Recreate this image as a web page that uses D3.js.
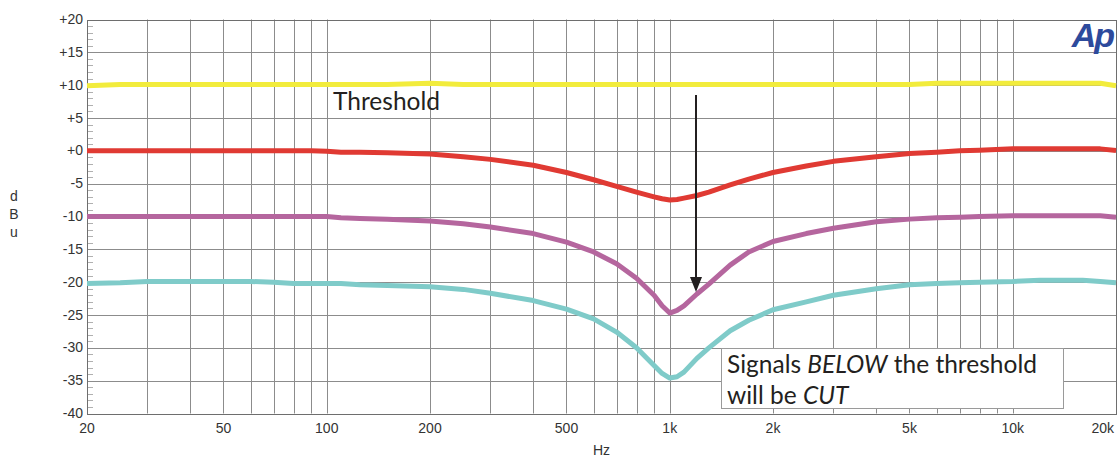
<!DOCTYPE html>
<html>
<head>
<meta charset="utf-8">
<script src="https://cdn.jsdelivr.net/npm/d3@7"></script>
<style>
    body { margin: 0; background: #fff; }
    svg { display: block; }
    .tick-label { font-family: "Liberation Sans", Arial, sans-serif; font-size: 14px; fill: #333; }
    .note { font-family: Lato, "Open Sans", sans-serif; fill: #231f20; }
</style>
</head>
<body>
<div id="chart"></div>
<script>
'use strict';

// frequency points (Hz) shared by all traces
const freqs = [20, 25, 30, 40, 50, 60, 70, 80, 90, 100, 110, 125, 150, 200, 250, 300, 400, 500, 600, 700, 800, 900, 950,
    1000, 1050, 1100, 1200, 1300, 1500, 1700, 2000, 2500, 3000, 4000, 5000, 6000, 7000, 8000, 10000, 12000, 16000, 18000, 20000]

// dBu levels
const threshold = [9.9, 10.1, 10.1, 10.1, 10.1, 10.1, 10.1, 10.1, 10.1, 10.1, 10.1, 10.1, 10.1, 10.3, 10.1, 10.1, 10.1, 10.1, 10.1, 10.1, 10.1, 10.1, 10.1,
    10.1, 10.1, 10.1, 10.1, 10.1, 10.1, 10.1, 10.1, 10.1, 10.1, 10.1, 10.1, 10.3, 10.3, 10.3, 10.3, 10.3, 10.3, 10.3, 9.9]
const sig0 = [0, 0, 0, 0, 0, 0, 0, 0, 0, -0.05, -0.2, -0.2, -0.3, -0.5, -0.9, -1.3, -2.2, -3.3, -4.4, -5.4, -6.3, -7.0, -7.3,
    -7.5, -7.4, -7.2, -6.8, -6.3, -5.2, -4.3, -3.3, -2.3, -1.6, -0.9, -0.4, -0.2, 0, 0.1, 0.3, 0.3, 0.3, 0.3, 0.05]
const sig10 = [-10, -10, -10, -10, -10, -10, -10, -10, -10, -10, -10.2, -10.3, -10.4, -10.7, -11.1, -11.6, -12.6, -13.9, -15.4, -17.2, -19.4, -22.0, -23.6,
    -24.7, -24.3, -23.6, -21.8, -20.3, -17.4, -15.4, -13.8, -12.6, -11.8, -10.8, -10.4, -10.2, -10.1, -10, -9.9, -9.9, -9.9, -9.9, -10.1]
const sig20 = [-20.2, -20.1, -19.9, -19.9, -19.9, -19.9, -20.0, -20.2, -20.2, -20.2, -20.2, -20.4, -20.5, -20.7, -21.1, -21.7, -22.8, -24.1, -25.6, -27.6, -30.0, -32.7, -33.9,
    -34.6, -34.4, -33.7, -31.6, -30.0, -27.4, -25.8, -24.2, -23.0, -22.0, -21.0, -20.4, -20.2, -20.1, -20.0, -19.9, -19.7, -19.7, -19.9, -20.1]

const series = [
    { name: "threshold", values: threshold, color: "#f2ec3c" },
    { name: "0 dBu", values: sig0, color: "#e03a33" },
    { name: "-10 dBu", values: sig10, color: "#b5669e" },
    { name: "-20 dBu", values: sig20, color: "#7fcbc9" }
]

// axis ticks
const xLabelTicks = [20, 50, 100, 200, 500, 1000, 2000, 5000, 10000, 20000]
const xLabels = ["20", "50", "100", "200", "500", "1k", "2k", "5k", "10k", "20k"]
const xGridTicks = [30, 40, 50, 60, 70, 80, 90, 100, 200, 300, 400, 500, 600, 700, 800, 900, 1000,
    2000, 3000, 4000, 5000, 6000, 7000, 8000, 9000, 10000]
const yMajor = [20, 15, 10, 5, 0, -5, -10, -15, -20, -25, -30, -35, -40]
const yLabels = ["+20", "+15", "+10", "+5", "+0", "-5", "-10", "-15", "-20", "-25", "-30", "-35", "-40"]
const yMinor = d3.range(-39, 20).filter(v => v % 5 !== 0)

const width = 1119,
    height = 457;
const margin = ({ top: 19.5, right: 3, bottom: 43.5, left: 87 })

const svg = d3.select("#chart").append("svg")
    .attr("width", width)
    .attr("height", height)

const x = d3.scaleLog()
    .domain([20, 20000])
    .range([margin.left, width - margin.right])
const y = d3.scaleLinear()
    .domain([-40, 20])
    .range([height - margin.bottom, margin.top])

const px = v => Math.round(v) + 0.5

// vertical grid
svg.append("g")
    .selectAll("line")
    .data(xGridTicks)
    .enter().append("line")
    .attr("x1", d => px(x(d))).attr("x2", d => px(x(d)))
    .attr("y1", y(20)).attr("y2", y(-40))
    .attr("stroke", "#8c8c8c")
    .attr("stroke-width", 1)

// horizontal grid every 5 dB
svg.append("g")
    .selectAll("line")
    .data(yMajor.filter(d => d !== 20 && d !== -40))
    .enter().append("line")
    .attr("x1", x(20)).attr("x2", x(20000))
    .attr("y1", d => px(y(d))).attr("y2", d => px(y(d)))
    .attr("stroke", "#8c8c8c")
    .attr("stroke-width", 1)

// minor ticks on the left edge
svg.append("g")
    .selectAll("line")
    .data(yMinor)
    .enter().append("line")
    .attr("x1", x(20)).attr("x2", x(20) + 6)
    .attr("y1", d => px(y(d))).attr("y2", d => px(y(d)))
    .attr("stroke", "#b0b0b0")
    .attr("stroke-width", 1)

// frame
svg.append("rect")
    .attr("x", px(x(20)))
    .attr("y", px(y(20)))
    .attr("width", Math.round(x(20000)) - Math.round(x(20)))
    .attr("height", Math.round(y(-40)) - Math.round(y(20)))
    .attr("fill", "none")
    .attr("stroke", "#6e6e6e")
    .attr("stroke-width", 1)

// y labels
svg.append("g")
    .selectAll("text")
    .data(yMajor)
    .enter().append("text")
    .attr("class", "tick-label")
    .attr("x", x(20) - 4)
    .attr("y", d => y(d) + 4.5)
    .attr("text-anchor", "end")
    .text((d, i) => yLabels[i])

// x labels (last one pulled inside the window)
svg.append("g")
    .selectAll("text")
    .data(xLabelTicks)
    .enter().append("text")
    .attr("class", "tick-label")
    .attr("x", d => d === 20000 ? x(d) - 2 : x(d))
    .attr("y", y(-40) + 19)
    .attr("text-anchor", d => d === 20000 ? "end" : "middle")
    .text((d, i) => xLabels[i])

svg.append("text")
    .attr("class", "tick-label")
    .attr("x", (x(20) + x(20000)) / 2)
    .attr("y", 455)
    .attr("text-anchor", "middle")
    .text("Hz")

// stacked dBu
svg.append("g")
    .selectAll("text")
    .data(["d", "B", "u"])
    .enter().append("text")
    .attr("class", "tick-label")
    .attr("x", 14)
    .attr("y", (d, i) => 201 + i * 18)
    .attr("text-anchor", "middle")
    .text(d => d)

// traces
const line = d3.line()
    .x((d, i) => x(freqs[i]))
    .y(d => y(d))

svg.append("g")
    .selectAll("path")
    .data(series)
    .enter().append("path")
    .attr("d", d => line(d.values))
    .attr("fill", "none")
    .attr("stroke", d => d.color)
    .attr("stroke-width", 5)
    .attr("stroke-linejoin", "round")

// Ap logo
svg.append("text")
    .attr("x", 1113)
    .attr("y", 47)
    .attr("text-anchor", "end")
    .attr("font-family", "'Liberation Sans', Arial, sans-serif")
    .attr("font-weight", "bold")
    .attr("font-style", "italic")
    .attr("font-size", 34)
    .attr("letter-spacing", -2)
    .attr("fill", "#2d4a9c")
    .text("Ap")

// threshold label
svg.append("text")
    .attr("class", "note")
    .attr("x", 333)
    .attr("y", 110)
    .attr("font-size", 24.5)
    .text("Threshold")

// arrow
svg.append("line")
    .attr("x1", 696).attr("x2", 696)
    .attr("y1", 95).attr("y2", 278)
    .attr("stroke", "#231f20")
    .attr("stroke-width", 2)
svg.append("path")
    .attr("d", "M690,277 L702,277 L696,292 Z")
    .attr("fill", "#231f20")

// note box
svg.append("rect")
    .attr("x", 721.5).attr("y", 348.5)
    .attr("width", 342).attr("height", 60)
    .attr("fill", "#fff")
    .attr("stroke", "#9a9a9a")
    .attr("stroke-width", 1)

const note = svg.append("text")
    .attr("class", "note")
    .attr("font-size", 24.5)
note.append("tspan").attr("x", 727).attr("y", 373).text("Signals ")
note.append("tspan").attr("font-style", "italic").text("BELOW")
note.append("tspan").text(" the threshold")
note.append("tspan").attr("x", 727).attr("y", 404).text("will be ")
note.append("tspan").attr("font-style", "italic").text("CUT")
</script>
</body>
</html>
